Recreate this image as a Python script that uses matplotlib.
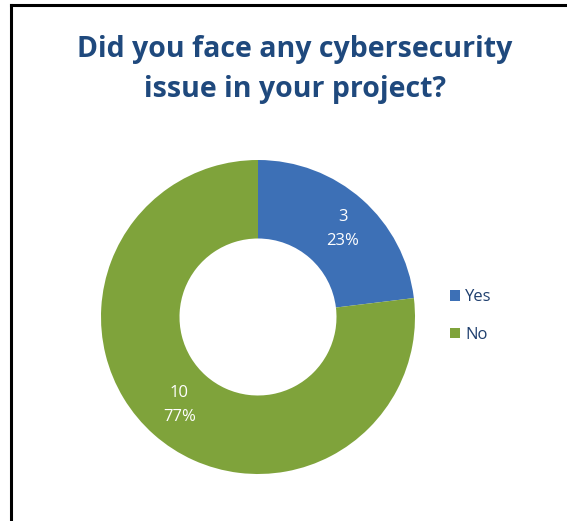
import numpy as np
import matplotlib.pyplot as plt
from matplotlib.lines import Line2D
from matplotlib.patches import Patch

# survey answers
labels = ["Yes", "No"]
counts = [3, 10]
colors = ["#3d70b6", "#7fa33b"]

plt.rcParams['font.family'] = ['Open Sans', 'DejaVu Sans']

fig = plt.figure(figsize=(5.67, 5.21), dpi=100)

# border lines (top and left only, as in the screenshot)
fig.add_artist(Line2D([11 / 567, 11 / 567], [0, 1 - 5 / 521], transform=fig.transFigure,
                      color="black", lw=2.2))
fig.add_artist(Line2D([11 / 567, 1], [1 - 5 / 521, 1 - 5 / 521], transform=fig.transFigure,
                      color="black", lw=2.2))

fig.text(0.520, 1 - 69 / 521, "Did you face any cybersecurity\nissue in your project?",
         ha="center", va="center", fontsize=20.5, fontweight="bold",
         color="#1f497d", linespacing=1.5)

# donut
ax = fig.add_axes([101 / 567, 1 - 474 / 521, 314 / 567, 314 / 521])
total = sum(counts)
wedges, _ = ax.pie(counts, colors=colors, startangle=90, counterclock=False,
                   radius=1.0, wedgeprops=dict(width=0.5, edgecolor="none"))
ax.set_xlim(-1, 1)
ax.set_ylim(-1, 1)
ax.set_aspect("equal")

# data labels (placed like the Excel ones)
label_pos = [(0.54, 0.56), (-0.50, -0.56)]
for c, (x, y) in zip(counts, label_pos):
    pct = round(100 * c / total)
    ax.text(x, y, f"{c}\n{pct}%", ha="center", va="center", color="white",
            fontsize=12, linespacing=1.6)

handles = [Patch(facecolor=col, edgecolor="none") for col in colors]
fig.legend(handles, labels, loc="center left", bbox_to_anchor=(435 / 567, 1 - 316 / 521),
           frameon=False, fontsize=12, handlelength=0.6, handleheight=0.6,
           handletextpad=0.3, labelspacing=1.3, labelcolor="#1f3f6e")

fig.savefig("out.png", dpi=100)
